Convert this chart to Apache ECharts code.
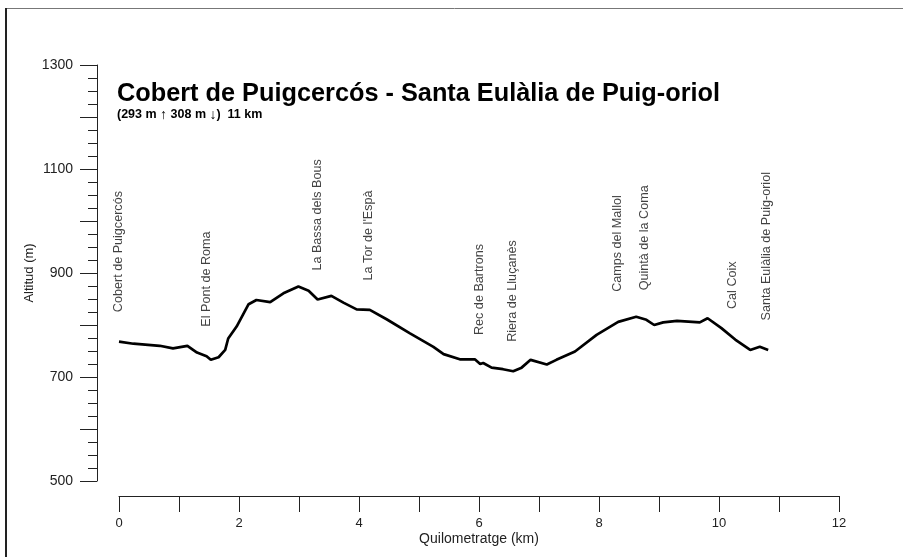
<!DOCTYPE html>
<html>
<head>
<meta charset="utf-8">
<script src="https://cdn.jsdelivr.net/npm/echarts@6/dist/echarts.min.js"></script>
<style>html,body{margin:0;padding:0;background:#fff}#c{width:903px;height:557px}</style>
</head>
<body>
<div id="c"></div>
<script>
// Profile data
const profileKm = [0, 0.24, 0.68, 0.9, 1.14, 1.3, 1.46, 1.53, 1.66, 1.77, 1.82, 1.96, 2.16, 2.29, 2.52, 2.74, 2.99, 3.16, 3.31, 3.54, 3.74, 3.96, 4.18, 4.46, 4.85, 5.24, 5.41, 5.68, 5.93, 6.02, 6.07, 6.21, 6.4, 6.57, 6.71, 6.86, 7.13, 7.29, 7.6, 7.96, 8.32, 8.62, 8.79, 8.92, 9.07, 9.3, 9.68, 9.81, 10.04, 10.27, 10.52, 10.68, 10.82];
const profileAlt = [768, 764, 760, 755, 760, 747, 740, 733, 738, 752, 774, 797, 840, 848, 844, 861, 874, 866, 849, 856, 843, 830, 829, 811, 784, 758, 744, 734, 734, 725, 727, 718, 715, 711, 718, 733, 724, 733, 749, 781, 806, 816, 810, 800, 805, 808, 805, 813, 794, 772, 752, 758, 752];

// Waypoints
const waypointNames = ["Cobert de Puigcercós", "El Pont de Roma", "La Bassa dels Bous", "La Tor de l'Espà", "Rec de Bartrons", "Riera de Lluçanès", "Camps del Mallol", "Quintà de la Coma", "Cal Coix", "Santa Eulàlia de Puig-oriol"];
const waypointKm = [0, 1.46, 3.32, 4.16, 6.02, 6.56, 8.32, 8.77, 10.24, 10.8];
const waypointAlt = [768, 740, 848, 829, 724, 711, 807, 810, 774, 752];

// Axis labels
const xTickLabels = [0, 2, 4, 6, 8, 10, 12];
const yTickLabels = [500, 700, 900, 1100, 1300];

const titleText = "Cobert de Puigcercós - Santa Eulàlia de Puig-oriol";
const subTitleText = "(293 m {a|↑} 308 m {a|↓})  11 km";
const FONT = "Liberation Sans, Arial, sans-serif";

const chart = echarts.init(document.getElementById('c'), null, {renderer: 'canvas'});
chart.setOption({
  animation: false,
  backgroundColor: '#fff',
  title: [
    {text: titleText, left: 112, top: 77, textStyle: {fontFamily: FONT, fontSize: 25.3, fontWeight: 'bold', color: '#000'}},
    {text: subTitleText, left: 112, top: 103,
     textStyle: {fontFamily: FONT, fontSize: 12.5, fontWeight: 'bold', color: '#000',
       rich: {a: {fontFamily: FONT, fontSize: 14, fontWeight: 'normal', color: '#000'}}}}
  ],
  graphic: [
    {type: 'line', shape: {x1: 6, y1: 8.5, x2: 903, y2: 8.5}, style: {stroke: '#777', lineWidth: 1}},
    {type: 'line', shape: {x1: 6, y1: 8, x2: 6, y2: 557}, style: {stroke: '#222', lineWidth: 2}}
  ],
  grid: {left: 119, right: 64, top: 65, bottom: 76},
  xAxis: {
    type: 'value', min: 0, max: 12, interval: 1, offset: 15,
    name: 'Quilometratge (km)', nameLocation: 'middle', nameGap: 36, nameMoveOverlap: false,
    nameTextStyle: {fontFamily: FONT, fontSize: 14, color: '#222'},
    axisLine: {show: true, onZero: false, lineStyle: {color: '#222', width: 1}},
    axisTick: {show: true, length: 16, lineStyle: {color: '#222'}},
    splitLine: {show: false},
    axisLabel: {margin: 21, fontFamily: FONT, fontSize: 13, color: '#222',
      formatter: v => xTickLabels.indexOf(v) >= 0 ? String(v) : ''}
  },
  yAxis: {
    type: 'value', min: 500, max: 1300, interval: 100, offset: 22,
    name: 'Altitud (m)', nameLocation: 'middle', nameGap: 61, nameMoveOverlap: false,
    nameTextStyle: {fontFamily: FONT, fontSize: 13, color: '#222'},
    axisLine: {show: true, onZero: false, lineStyle: {color: '#222', width: 1}},
    axisTick: {show: true, length: 17, lineStyle: {color: '#222'}},
    minorTick: {show: true, splitNumber: 4, length: 9, lineStyle: {color: '#222'}},
    splitLine: {show: false},
    axisLabel: {margin: 24, fontFamily: FONT, fontSize: 14, color: '#222',
      formatter: v => yTickLabels.indexOf(v) >= 0 ? String(v) : ''}
  },
  series: [
    {
      type: 'line',
      data: profileKm.map((k, i) => [k, profileAlt[i]]),
      showSymbol: false,
      lineStyle: {color: '#000', width: 2.7},
      z: 3
    },
    {
      type: 'scatter',
      data: waypointKm.map((k, i) => ({value: [k, waypointAlt[i]], name: waypointNames[i]})),
      symbolSize: 1,
      itemStyle: {color: 'rgba(0,0,0,0)'},
      label: {
        show: true, formatter: p => p.name, rotate: 90,
        position: [0, -29], align: 'left', verticalAlign: 'middle',
        fontFamily: FONT, fontSize: 12.6, color: '#111'
      },
      labelLayout: {hideOverlap: false},
      z: 4
    }
  ]
});
</script>
</body>
</html>
